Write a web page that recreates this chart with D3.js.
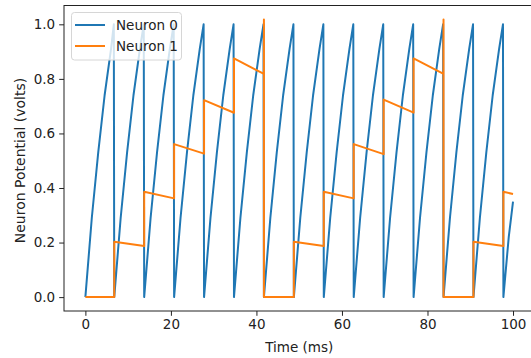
<!DOCTYPE html>
<html>
<head>
<meta charset="utf-8">
<script src="https://cdn.jsdelivr.net/npm/d3@7"></script>
<style>
  body { margin: 0; background: #fff; }
  text { font-family: "DejaVu Sans", sans-serif; fill: #222; }
</style>
</head>
<body>
<svg id="chart" width="531" height="358"></svg>
<script>
// neuron 0: charging curve, reset every ~7 ms  [time, volts]
var neuron0 = [
  [0, 0], [1.5, 0.29], [3, 0.53], [4.5, 0.74], [6, 0.91], [6.65, 1.0],
  [6.75, 0], [8.25, 0.29], [9.75, 0.53], [11.25, 0.74], [12.75, 0.91], [13.65, 1.0],
  [13.75, 0], [15.25, 0.29], [16.75, 0.53], [18.25, 0.74], [19.75, 0.91], [20.65, 1.0],
  [20.75, 0], [22.25, 0.29], [23.75, 0.53], [25.25, 0.74], [26.75, 0.91], [27.65, 1.0],
  [27.75, 0], [29.25, 0.29], [30.75, 0.53], [32.25, 0.74], [33.75, 0.91], [34.65, 1.0],
  [34.75, 0], [36.25, 0.29], [37.75, 0.53], [39.25, 0.74], [40.75, 0.91], [41.65, 1.0],
  [41.75, 0], [43.25, 0.29], [44.75, 0.53], [46.25, 0.74], [47.75, 0.91], [48.65, 1.0],
  [48.75, 0], [50.25, 0.29], [51.75, 0.53], [53.25, 0.74], [54.75, 0.91], [55.65, 1.0],
  [55.75, 0], [57.25, 0.29], [58.75, 0.53], [60.25, 0.74], [61.75, 0.91], [62.65, 1.0],
  [62.75, 0], [64.25, 0.29], [65.75, 0.53], [67.25, 0.74], [68.75, 0.91], [69.65, 1.0],
  [69.75, 0], [71.25, 0.29], [72.75, 0.53], [74.25, 0.74], [75.75, 0.91], [76.65, 1.0],
  [76.75, 0], [78.25, 0.29], [79.75, 0.53], [81.25, 0.74], [82.75, 0.91], [83.65, 1.0],
  [83.75, 0], [85.25, 0.29], [86.75, 0.53], [88.25, 0.74], [89.75, 0.91], [90.65, 1.0],
  [90.75, 0], [92.25, 0.29], [93.75, 0.53], [95.25, 0.74], [96.75, 0.91], [97.65, 1.0],
  [97.75, 0], [99, 0.22], [100, 0.35]
];

// neuron 1: steps up on each neuron 0 spike, fires and resets at ~1.0
var neuron1 = [
  [0, 0], [6.75, 0], [6.75, 0.203], [13.75, 0.187], [13.75, 0.386], [20.75, 0.362],
  [20.75, 0.561], [27.75, 0.526], [27.75, 0.722], [34.75, 0.676], [34.75, 0.875],
  [41.75, 0.818], [41.75, 1.018], [41.75, 0], [48.75, 0], [48.75, 0.203],
  [55.75, 0.187], [55.75, 0.386], [62.75, 0.362], [62.75, 0.561], [69.75, 0.524],
  [69.75, 0.724], [76.75, 0.676], [76.75, 0.875], [83.75, 0.818], [83.75, 1.018],
  [83.75, 0], [90.75, 0], [90.75, 0.203], [97.75, 0.187], [97.75, 0.386], [100, 0.378]
];

var xTicks = [0, 20, 40, 60, 80, 100];
var yTicks = [0, 0.2, 0.4, 0.6, 0.8, 1.0];
var seriesNames = ['Neuron 0', 'Neuron 1'];
var seriesColors = ['#1f77b4', '#ff7f0e'];

var svg = d3.select('#chart');
var plot = { left: 64, right: 534.4, top: 5.5, bottom: 311 };

var x = d3.scaleLinear().domain([-5, 105]).range([plot.left, plot.right]);
var y = d3.scaleLinear().domain([-0.0509, 1.069]).range([plot.bottom, plot.top]);

svg.append('defs').append('clipPath').attr('id', 'clip')
  .append('rect')
  .attr('x', plot.left).attr('y', plot.top)
  .attr('width', plot.right - plot.left).attr('height', plot.bottom - plot.top);

var line = d3.line().x(d => x(d[0])).y(d => y(d[1]));

var lines = svg.append('g').attr('clip-path', 'url(#clip)');
[neuron0, neuron1].forEach(function (data, i) {
  lines.append('path')
    .datum(data)
    .attr('d', line)
    .attr('fill', 'none')
    .attr('stroke', seriesColors[i])
    .attr('stroke-width', 2)
    .attr('stroke-linejoin', 'round');
});

// axes
var xAxis = svg.append('g')
  .attr('transform', `translate(0,${plot.bottom})`)
  .call(d3.axisBottom(x).tickValues(xTicks).tickFormat(d3.format('d')).tickSize(4.8).tickPadding(4));
var yAxis = svg.append('g')
  .attr('transform', `translate(${plot.left},0)`)
  .call(d3.axisLeft(y).tickValues(yTicks).tickFormat(d3.format('.1f')).tickSize(4.8).tickPadding(4));

[xAxis, yAxis].forEach(function (a) {
  a.select('.domain').remove();
  a.selectAll('.tick line').attr('stroke', '#222').attr('stroke-width', 1);
  a.selectAll('.tick text').attr('font-size', '13.5px').attr('fill', '#222')
    .style('font-family', '"DejaVu Sans", sans-serif');
});

// spines
svg.append('rect')
  .attr('x', plot.left).attr('y', plot.top)
  .attr('width', plot.right - plot.left).attr('height', plot.bottom - plot.top)
  .attr('fill', 'none').attr('stroke', '#222').attr('stroke-width', 1);

// axis labels
svg.append('text')
  .attr('x', (plot.left + plot.right) / 2)
  .attr('y', 352)
  .attr('text-anchor', 'middle')
  .attr('font-size', '13.5px')
  .text('Time (ms)');

svg.append('text')
  .attr('transform', 'translate(25,160.5) rotate(-90)')
  .attr('text-anchor', 'middle')
  .attr('font-size', '14px')
  .text('Neuron Potential (volts)');

// legend
var legend = svg.append('g');
legend.append('rect')
  .attr('x', 71.5).attr('y', 12.5)
  .attr('width', 110).attr('height', 47.5)
  .attr('rx', 3)
  .attr('fill', '#fff').attr('fill-opacity', 0.8)
  .attr('stroke', '#d6d6d6').attr('stroke-width', 1);

seriesNames.forEach(function (name, i) {
  var ly = 25 + i * 21;
  legend.append('line')
    .attr('x1', 75).attr('x2', 105)
    .attr('y1', ly).attr('y2', ly)
    .attr('stroke', seriesColors[i]).attr('stroke-width', 2);
  legend.append('text')
    .attr('x', 116).attr('y', ly + 5)
    .attr('font-size', '13.5px')
    .text(name);
});
</script>
</body>
</html>
